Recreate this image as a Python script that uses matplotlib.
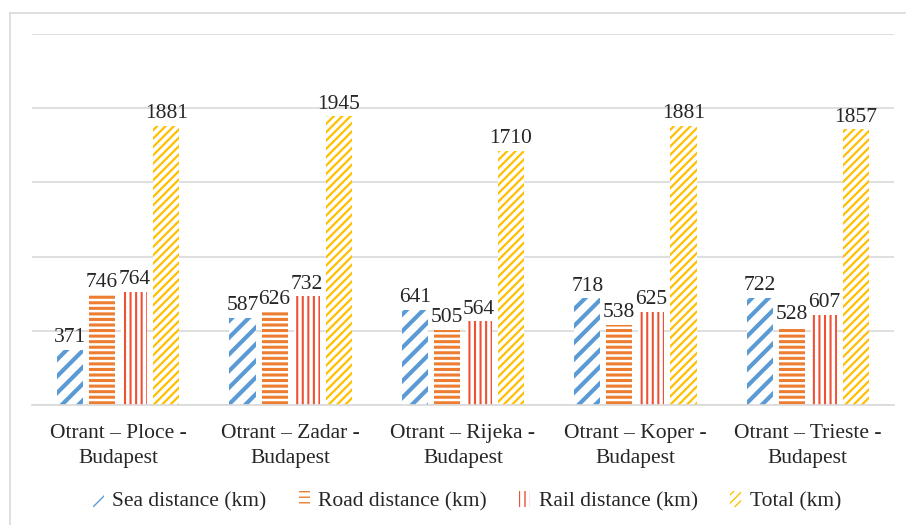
import numpy as np
import matplotlib
matplotlib.use("Agg")
import matplotlib.pyplot as plt
from matplotlib.patches import Patch
from matplotlib.lines import Line2D

# Data
routes = ["Otrant – Ploce -\nBudapest", "Otrant – Zadar -\nBudapest",
          "Otrant – Rijeka -\nBudapest", "Otrant – Koper -\nBudapest",
          "Otrant – Trieste -\nBudapest"]
sea = [371, 587, 641, 718, 722]
road = [746, 626, 505, 538, 528]
rail = [764, 732, 564, 625, 607]
total = [1881, 1945, 1710, 1881, 1857]
series_names = ["Sea distance (km)", "Road distance (km)", "Rail distance (km)", "Total (km)"]

plt.rcParams['font.family'] = ['Liberation Serif', 'DejaVu Serif']

colors = ["#5B9BD5", "#ED7D31", "#EE5235", "#FFC000"]
hatches = ["//", "---", "|||", "////"]
hatch_lw = [3.0, 2.2, 1.5, 1.6]
fs = 15.5

fig = plt.figure(figsize=(9.06, 5.25), dpi=100)
ax = fig.add_axes([32 / 906, 1 - 405 / 525, (894 - 32) / 906, (405 - 34) / 525])

x = np.arange(len(routes))
step = 0.186
width = 0.151
offsets = [-1.5 * step, -0.5 * step, 0.5 * step, 1.5 * step]

all_series = [sea, road, rail, total]
handles = []
for i, vals in enumerate(all_series):
    with plt.rc_context({'hatch.linewidth': hatch_lw[i]}):
        bars = ax.bar(x + offsets[i], vals, width, facecolor="white",
                      edgecolor=colors[i], hatch=hatches[i], linewidth=0)
        for b in bars:
            if hasattr(b, "set_hatch_linewidth"):
                b.set_hatch_linewidth(hatch_lw[i])
        for xi, v in zip(x + offsets[i], vals):
            ax.annotate(str(v), (xi, v), xytext=(0, 2), textcoords="offset points",
                        ha="center", va="bottom", fontsize=fs, color="#262626")
        h = Patch(facecolor="white", edgecolor=colors[i], hatch=hatches[i], linewidth=0)
        if hasattr(h, "set_hatch_linewidth"):
            h.set_hatch_linewidth(hatch_lw[i])
        handles.append(h)

ax.set_ylim(0, 2500)
ax.set_xlim(-0.5, len(routes) - 0.5)
ax.set_yticks(np.arange(0, 2501, 500))
ax.yaxis.grid(True, color="#D9D9D9", linewidth=1.2)
ax.set_axisbelow(True)
ax.tick_params(axis="y", left=False, labelleft=False)
ax.tick_params(axis="x", length=0, pad=14)
ax.set_xticks(x)
ax.set_xticklabels(routes, fontsize=fs, color="#262626", linespacing=1.4)
for s in ["top", "right", "left"]:
    ax.spines[s].set_visible(False)
ax.spines["bottom"].set_color("#D9D9D9")
ax.spines["bottom"].set_linewidth(1.2)

fig.legend(handles, series_names, loc="center", bbox_to_anchor=(0.5 + 14 / 906, 1 - 501 / 525),
           ncol=4, frameon=False, fontsize=fs, handlelength=0.5, handleheight=0.75,
           handletextpad=0.4, columnspacing=1.5, labelcolor="#262626")

# outer chart border (top and left visible)
fig.add_artist(Line2D([10 / 906, 10 / 906], [0, 1 - 13 / 525], color="#D9D9D9", linewidth=1.2))
fig.add_artist(Line2D([10 / 906, 1], [1 - 13 / 525, 1 - 13 / 525], color="#D9D9D9", linewidth=1.2))

fig.savefig("out.png", dpi=100)
